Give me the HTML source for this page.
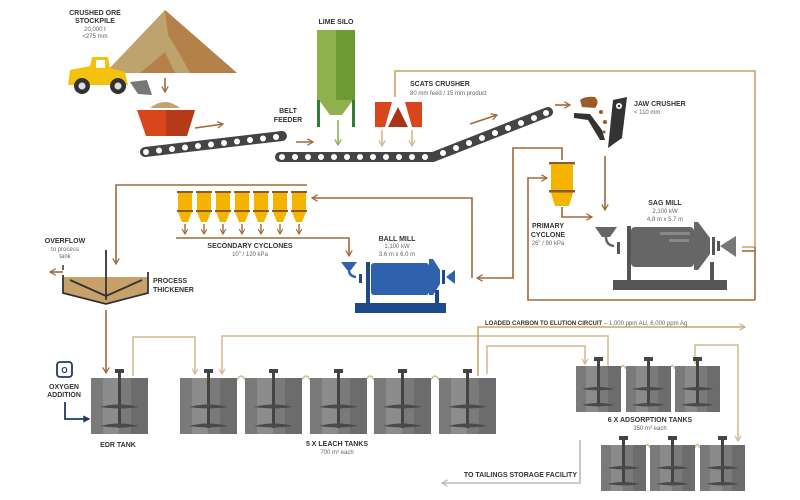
<!DOCTYPE html>
<html><head><meta charset="utf-8"><style>
html,body{margin:0;padding:0;background:#fff}
svg{display:block}
text{font-family:"Liberation Sans",sans-serif;fill:#333}
.b{font-weight:bold;font-size:7px}
.s{font-size:6px;fill:#666}
</style></head><body>
<svg width="800" height="500" viewBox="0 0 800 500" xmlns="http://www.w3.org/2000/svg">
<defs>
<marker id="ab" viewBox="0 0 10 10" refX="8" refY="5" markerWidth="5" markerHeight="5" orient="auto"><path d="M1,1 L8,5 L1,9" fill="none" stroke="#a0693a" stroke-width="1.6"/></marker>
<marker id="at" viewBox="0 0 10 10" refX="8" refY="5" markerWidth="5" markerHeight="5" orient="auto"><path d="M1,1 L8,5 L1,9" fill="none" stroke="#d2b990" stroke-width="1.6"/></marker>
<marker id="ag" viewBox="0 0 10 10" refX="8" refY="5" markerWidth="5" markerHeight="5" orient="auto"><path d="M1,1 L8,5 L1,9" fill="none" stroke="#8fb04e" stroke-width="1.6"/></marker>
<marker id="ay" viewBox="0 0 10 10" refX="8" refY="5" markerWidth="5" markerHeight="5" orient="auto"><path d="M1,1 L8,5 L1,9" fill="none" stroke="#c8b28a" stroke-width="1.6"/></marker>
<marker id="agr" viewBox="0 0 10 10" refX="8" refY="5" markerWidth="5" markerHeight="5" orient="auto"><path d="M1,1 L8,5 L1,9" fill="none" stroke="#bbb" stroke-width="1.6"/></marker>
<marker id="an" viewBox="0 0 10 10" refX="8" refY="5" markerWidth="4" markerHeight="4" orient="auto"><path d="M0,0 L10,5 L0,10z" fill="#1e3a6e"/></marker>
<g id="tank"><rect x="0" y="0" width="57" height="56" fill="#7a7a7a"/><rect x="12" y="0" width="16" height="56" fill="#8c8c8c"/><rect x="40" y="0" width="17" height="56" fill="#6c6c6c"/><rect x="27" y="-6" width="3" height="56" fill="#444"/><rect x="24" y="-9" width="9" height="4" fill="#444"/><path d="M9,29 Q28,24 48,29 Q28,32 9,29z M9,48 Q28,43 48,48 Q28,51 9,48z" fill="#4a4a4a"/></g>
<g id="atank"><rect x="0" y="0" width="45" height="46" fill="#7a7a7a"/><rect x="10" y="0" width="12" height="46" fill="#8a8a8a"/><rect x="32" y="0" width="13" height="46" fill="#6c6c6c"/><rect x="21" y="-6" width="3" height="46" fill="#444"/><rect x="18" y="-9" width="9" height="4" fill="#444"/><path d="M6,23 Q22,19 39,23 Q22,26 6,23z M6,39 Q22,35 39,39 Q22,42 6,39z" fill="#4a4a4a"/></g>
<g id="cy"><rect x="-1" y="0" width="16" height="2" fill="#8a5a30"/><rect x="0" y="2" width="14" height="17" fill="#f4b400"/><rect x="-1" y="19" width="16" height="2" fill="#8a5a30"/><path d="M0,21 L14,21 L10,31 L4,31z" fill="#f4b400"/></g>
</defs>

<!-- stockpile -->
<path d="M105,73 L165,10 L237,73z" fill="#bfa36e"/>
<path d="M165,10 L237,73 L190,73 Q175,45 168,35z" fill="#b5814a"/>
<path d="M140,73 L165,52 L175,73z" fill="#b5814a"/>
<text class="b" x="95" y="15" text-anchor="middle">CRUSHED ORE</text>
<text class="b" x="95" y="23" text-anchor="middle">STOCKPILE</text>
<text class="s" x="95" y="31" text-anchor="middle">20,000 t</text>
<text class="s" x="95" y="38" text-anchor="middle">&lt;275 mm</text>
<!-- loader -->
<path d="M70,70 L90,66 L92,57 L108,57 L110,68 L125,72 L128,85 L68,85z" fill="#f4c20d"/>
<rect x="96" y="60" width="9" height="8" fill="#fff"/>
<path d="M130,82 L147,80 L152,95 L138,94z" fill="#777"/>
<circle cx="82" cy="86" r="8" fill="#333"/><circle cx="82" cy="86" r="3.5" fill="#ddd"/>
<circle cx="118" cy="86" r="8" fill="#333"/><circle cx="118" cy="86" r="3.5" fill="#ddd"/>
<line x1="165" y1="78" x2="165" y2="92" stroke="#a0693a" stroke-width="1.6" marker-end="url(#ab)"/>
<!-- bin -->
<path d="M150,108 Q165,96 180,108z" fill="#bfa36e"/>
<path d="M137,110 L195,110 L187,136 L146,136z" fill="#d9461c"/>
<path d="M166,110 L195,110 L187,136 L166,136z" fill="#b53a17"/>
<line x1="195" y1="128" x2="223" y2="124" stroke="#a0693a" stroke-width="1.6" marker-end="url(#ab)"/>
<!-- belt 1 -->
<line x1="145" y1="152" x2="282" y2="136" stroke="#444" stroke-width="10" stroke-linecap="round"/>
<g fill="#fff">
<circle cx="146" cy="152" r="3"/><circle cx="159" cy="150.5" r="3"/><circle cx="172" cy="149" r="3"/><circle cx="185" cy="147.5" r="3"/><circle cx="198" cy="146" r="3"/><circle cx="211" cy="144.5" r="3"/><circle cx="224" cy="143" r="3"/><circle cx="237" cy="141.5" r="3"/><circle cx="250" cy="140" r="3"/><circle cx="263" cy="138.5" r="3"/><circle cx="276" cy="137" r="3"/></g>
<text class="b" x="288" y="113" text-anchor="middle">BELT</text>
<text class="b" x="288" y="122" text-anchor="middle">FEEDER</text>
<line x1="296" y1="142" x2="313" y2="142" stroke="#a0693a" stroke-width="1.6" marker-end="url(#ab)"/>
<!-- lime silo -->
<text class="b" x="336" y="24" text-anchor="middle">LIME SILO</text>
<rect x="317" y="30" width="38" height="70" fill="#8fb04e"/>
<rect x="336" y="30" width="19" height="70" fill="#6e9a36"/>
<path d="M319,100 L353,100 L342,115 L330,115z" fill="#8fb04e"/>
<rect x="317" y="100" width="3" height="27" fill="#2e7d32"/><rect x="352" y="100" width="3" height="27" fill="#2e7d32"/>
<line x1="338" y1="120" x2="338" y2="145" stroke="#8fb04e" stroke-width="1.6" marker-end="url(#ag)"/>
<!-- scats -->
<path d="M375,102 L392,102 L385,127 L375,127z M422,102 L405,102 L412,127 L422,127z" fill="#d9461c"/>
<path d="M398,107 L408,127 L388,127z" fill="#a83415"/>
<text class="b" x="410" y="86">SCATS CRUSHER</text>
<text class="s" x="410" y="95">80 mm feed / 15 mm product</text>
<path d="M395,97 L395,71 L755,71 L755,247 L742,247" fill="none" stroke="#c8a06a" stroke-width="1.6"/>
<line x1="382" y1="130" x2="382" y2="146" stroke="#d2b990" stroke-width="1.6" marker-end="url(#at)"/>
<line x1="412" y1="130" x2="412" y2="146" stroke="#d2b990" stroke-width="1.6" marker-end="url(#at)"/>
<!-- belt 2 -->
<path d="M280,157 L433,157 L548,112" fill="none" stroke="#444" stroke-width="10" stroke-linecap="round" stroke-linejoin="round"/>
<g fill="#fff">
<circle cx="282" cy="157" r="3"/><circle cx="295" cy="157" r="3"/><circle cx="308" cy="157" r="3"/><circle cx="321" cy="157" r="3"/><circle cx="334" cy="157" r="3"/><circle cx="347" cy="157" r="3"/><circle cx="360" cy="157" r="3"/><circle cx="373" cy="157" r="3"/><circle cx="386" cy="157" r="3"/><circle cx="399" cy="157" r="3"/><circle cx="412" cy="157" r="3"/><circle cx="425" cy="157" r="3"/>
<circle cx="443" cy="153" r="3"/><circle cx="456" cy="148" r="3"/><circle cx="469" cy="143" r="3"/><circle cx="482" cy="138" r="3"/><circle cx="495" cy="133" r="3"/><circle cx="508" cy="128" r="3"/><circle cx="521" cy="123" r="3"/><circle cx="534" cy="118" r="3"/><circle cx="546" cy="113" r="3"/></g>
<line x1="470" y1="124" x2="497" y2="115" stroke="#a0693a" stroke-width="1.6" marker-end="url(#ab)"/>
<line x1="555" y1="105" x2="570" y2="105" stroke="#a0693a" stroke-width="1.6" marker-end="url(#ab)"/>
<!-- jaw crusher -->
<path d="M580,100 Q585,96 595,97 Q600,102 595,108 L582,107z" fill="#9a5c2a"/>
<path d="M574,113 L590,114 L602,130 L605,140 L600,140 L588,120 L574,118z" fill="#333"/>
<path d="M613,100 L627,97 L622,138 L608,148z" fill="#333"/>
<circle cx="619" cy="106" r="3" fill="#fff"/><circle cx="619" cy="106" r="1.3" fill="#333"/>
<circle cx="601" cy="112" r="2" fill="#9a5c2a"/><circle cx="605" cy="122" r="2" fill="#9a5c2a"/><circle cx="604" cy="132" r="1.5" fill="#9a5c2a"/>
<text class="b" x="634" y="106">JAW CRUSHER</text>
<text class="s" x="634" y="114">&lt; 110 mm</text>
<line x1="605" y1="156" x2="605" y2="210" stroke="#a0693a" stroke-width="1.6" marker-end="url(#ab)"/>
<!-- primary cyclone -->
<rect x="549" y="162" width="26" height="2.5" fill="#8a5a30"/>
<rect x="551" y="164" width="22" height="29" fill="#f4b400"/>
<rect x="549" y="190" width="26" height="2.5" fill="#8a5a30"/>
<path d="M551,193 L573,193 L569,206 L555,206z" fill="#f4b400"/>
<text class="b" x="548" y="228" text-anchor="middle">PRIMARY</text>
<text class="b" x="548" y="237" text-anchor="middle">CYCLONE</text>
<text class="s" x="548" y="245" text-anchor="middle">26" / 90 kPa</text>
<path d="M562,160 L562,148 L513,148 L513,278 L477,278" fill="none" stroke="#a0693a" stroke-width="1.6" marker-end="url(#ab)"/>
<path d="M755,300 L528,300 L528,178 L547,178" fill="none" stroke="#a0693a" stroke-width="1.6" marker-end="url(#ab)"/>
<path d="M562,207 L562,217 L592,217" fill="none" stroke="#a0693a" stroke-width="1.6" marker-end="url(#ab)"/>
<line x1="755" y1="247" x2="755" y2="300" stroke="#a0693a" stroke-width="1.6"/>
<line x1="742" y1="251" x2="755" y2="251" stroke="#a0693a" stroke-width="1.6"/>
<!-- SAG mill -->
<text class="b" x="665" y="205" text-anchor="middle">SAG MILL</text>
<text class="s" x="665" y="213" text-anchor="middle">2,100 kW</text>
<text class="s" x="665" y="221" text-anchor="middle">4.8 m x 5.7 m</text>
<path d="M595,227 L617,227 L610,237 L602,237z" fill="#666"/>
<path d="M606,237 Q606,245 614,246" fill="none" stroke="#666" stroke-width="2.5"/>
<rect x="617" y="242" width="3" height="12" fill="#555"/>
<rect x="627" y="226" width="4" height="58" fill="#555"/>
<rect x="631" y="227" width="63" height="40" rx="4" fill="#666"/>
<rect x="660" y="232" width="30" height="3" fill="#888"/><rect x="669" y="239" width="20" height="3" fill="#888"/>
<path d="M694,222 L698,222 L710,238 L710,254 L698,270 L694,270z" fill="#666"/>
<rect x="712" y="237" width="3" height="18" fill="#555"/>
<rect x="717" y="241" width="3" height="10" fill="#555"/>
<path d="M720,246 L736,236 L736,257z" fill="#777"/>
<rect x="613" y="280" width="114" height="10" fill="#555"/>
<rect x="627" y="262" width="4" height="20" fill="#555"/><rect x="710" y="262" width="4" height="20" fill="#555"/>
<!-- secondary cyclones -->
<path d="M307,185 L116,185 L116,264" fill="none" stroke="#a0693a" stroke-width="1.6" marker-end="url(#ab)"/>
<use href="#cy" x="178" y="191"/><use href="#cy" x="197" y="191"/><use href="#cy" x="216" y="191"/><use href="#cy" x="235" y="191"/><use href="#cy" x="254" y="191"/><use href="#cy" x="273" y="191"/><use href="#cy" x="292" y="191"/>
<g stroke="#a0693a" stroke-width="1.4" marker-end="url(#ab)">
<line x1="185" y1="224" x2="185" y2="234"/><line x1="204" y1="224" x2="204" y2="234"/><line x1="223" y1="224" x2="223" y2="234"/><line x1="242" y1="224" x2="242" y2="234"/><line x1="261" y1="224" x2="261" y2="234"/><line x1="280" y1="224" x2="280" y2="234"/><line x1="299" y1="224" x2="299" y2="234"/></g>
<path d="M176,238 L349,238 L349,256" fill="none" stroke="#a0693a" stroke-width="1.6" marker-end="url(#ab)"/>
<path d="M472,278 L472,198 L312,198" fill="none" stroke="#a0693a" stroke-width="1.6" marker-end="url(#ab)"/>
<text class="b" x="250" y="248" text-anchor="middle">SECONDARY CYCLONES</text>
<text class="s" x="250" y="256" text-anchor="middle">10" / 120 kPa</text>
<!-- ball mill -->
<text class="b" x="397" y="241" text-anchor="middle">BALL MILL</text>
<text class="s" x="397" y="248" text-anchor="middle">1,100 kW</text>
<text class="s" x="397" y="256" text-anchor="middle">3.6 m x 6.0 m</text>
<path d="M341,262 L357,262 L351,270 L347,270z" fill="#2f62ad"/>
<path d="M349,270 Q349,276 356,277" fill="none" stroke="#2f62ad" stroke-width="2.5"/>
<rect x="359" y="274" width="3" height="9" fill="#1e4a8a"/>
<rect x="366" y="262" width="4" height="45" fill="#1e4a8a"/>
<rect x="371" y="263" width="58" height="32" rx="3" fill="#2f62ad"/>
<path d="M429,259 L433,259 L440,270 L440,284 L433,295 L429,295z" fill="#2f62ad"/>
<rect x="442" y="270" width="3" height="14" fill="#1e4a8a"/>
<path d="M446,277 L455,270 L455,284z" fill="#2f62ad"/>
<rect x="355" y="303" width="91" height="10" fill="#1e4a8a"/>
<rect x="435" y="290" width="4" height="15" fill="#1e4a8a"/>
<!-- thickener -->
<text class="b" x="65" y="243" text-anchor="middle">OVERFLOW</text>
<text class="s" x="65" y="251" text-anchor="middle">to process</text>
<text class="s" x="65" y="258" text-anchor="middle">tank</text>
<line x1="63" y1="272" x2="50" y2="272" stroke="#a0693a" stroke-width="1.6" marker-end="url(#ab)"/>
<line x1="63" y1="265" x2="63" y2="270" stroke="#333" stroke-width="1.5"/>
<path d="M63,277 L148,277 L148,293 L106,304 L63,293z" fill="#c8a06a"/>
<path d="M63,275 L63,293 L106,304 L148,293 L148,272" fill="none" stroke="#333" stroke-width="1.8"/>
<line x1="106" y1="250" x2="106" y2="300" stroke="#333" stroke-width="1.8"/>
<path d="M70,280 L106,296 L142,280" fill="none" stroke="#333" stroke-width="1.8"/>
<text class="b" x="153" y="283">PROCESS</text>
<text class="b" x="153" y="292">THICKENER</text>
<line x1="106" y1="310" x2="106" y2="373" stroke="#a0693a" stroke-width="1.6" marker-end="url(#ab)"/>
<!-- oxygen -->
<rect x="57" y="362" width="15" height="15" rx="3" fill="none" stroke="#1e3a6e" stroke-width="1.8"/>
<text x="64.5" y="373" text-anchor="middle" style="font-size:8px;font-weight:bold;fill:#1e3a6e">O</text>
<text class="b" x="64" y="389" text-anchor="middle">OXYGEN</text>
<text class="b" x="64" y="397" text-anchor="middle">ADDITION</text>
<path d="M65,402 L65,419 L89,419" fill="none" stroke="#1e3a6e" stroke-width="1.8" marker-end="url(#an)"/>
<!-- tan connectors -->
<g fill="none" stroke="#d2b990" stroke-width="1.5">
<path d="M133,376 L133,337 L195,337 L195,374" marker-end="url(#at)"/>
<path d="M608,366 L608,336 L222,336 L222,374" marker-end="url(#at)"/>
<path d="M487,374 L487,346 L585,346 L585,364" marker-end="url(#at)"/>
<path d="M695,364 L695,345 L738,345 L738,441" marker-end="url(#at)"/>
<path d="M237,380 Q241,372 245,380 M302,380 Q306,372 310,380 M366,380 Q370,372 374,380 M431,380 Q435,372 439,380 M620,369 Q623,362 626,369 M670,369 Q672,362 675,369 M645,448 Q647,441 650,448 M695,448 Q697,441 700,448"/>
</g>
<path d="M478,376 L478,327 L745,327" fill="none" stroke="#c8a96e" stroke-width="1.6" marker-end="url(#ay)"/>
<text x="485" y="325" style="font-size:6px;font-weight:bold">LOADED CARBON TO ELUTION CIRCUIT <tspan style="font-weight:normal;fill:#666">– 1,000 ppm AU, 6,000 ppm Ag</tspan></text>
<path d="M580,440 L580,483 L442,483" fill="none" stroke="#bbb" stroke-width="1.6" marker-end="url(#agr)"/>
<text class="b" x="577" y="477" text-anchor="end">TO TAILINGS STORAGE FACILITY</text>
<!-- tanks -->
<use href="#tank" x="91" y="378"/>
<use href="#tank" x="180" y="378"/><use href="#tank" x="245" y="378"/><use href="#tank" x="310" y="378"/><use href="#tank" x="374" y="378"/><use href="#tank" x="439" y="378"/>
<use href="#atank" x="576" y="366"/><use href="#atank" x="626" y="366"/><use href="#atank" x="675" y="366"/>
<use href="#atank" x="601" y="445"/><use href="#atank" x="650" y="445"/><use href="#atank" x="700" y="445"/>
<text class="b" x="118" y="447" text-anchor="middle">EDR TANK</text>
<text class="b" x="337" y="446" text-anchor="middle">5 X LEACH TANKS</text>
<text class="s" x="337" y="454" text-anchor="middle">700 m³ each</text>
<text class="b" x="650" y="422" text-anchor="middle">6 X ADSORPTION TANKS</text>
<text class="s" x="650" y="430" text-anchor="middle">350 m³ each</text>
</svg>
</body></html>
